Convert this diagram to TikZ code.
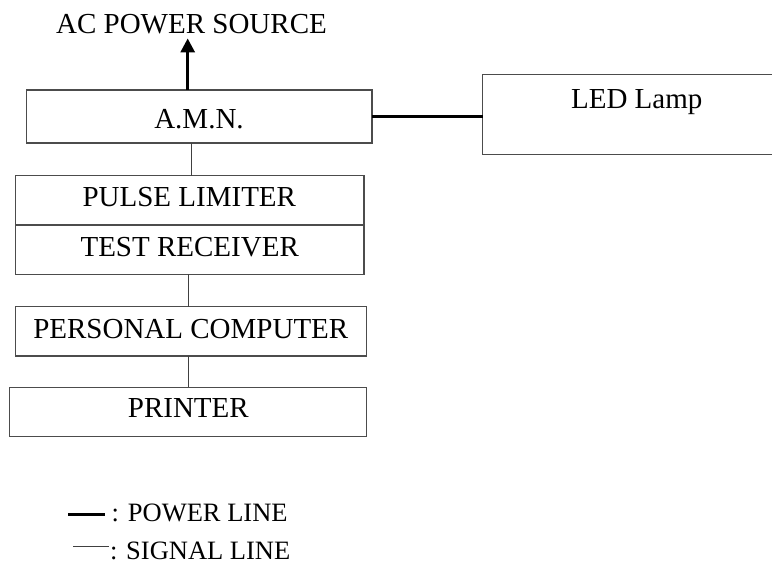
\documentclass[tikz,border=0pt]{standalone}
\usepackage{fontspec}
\setmainfont{Liberation Serif}
\usetikzlibrary{arrows.meta}
\begin{document}
\begin{tikzpicture}[x=1pt,y=-1pt,
  box/.style={draw=black!70, line width=1.2pt, rectangle, inner sep=0pt, outer sep=0pt,
    font=\fontsize{29}{34}\selectfont},
  txt/.style={inner sep=0pt, outer sep=0pt, font=\fontsize{29}{34}\selectfont},
  legtxt/.style={inner sep=0pt, outer sep=0pt, font=\fontsize{26.5}{31}\selectfont},
  power/.style={line width=3pt, black},
  signal/.style={line width=1pt, black!75}]
\clip (0,0) rectangle (772,564);
\fill[white] (0,0) rectangle (772,564);

% title
\node[txt, anchor=base, inner sep=4.7pt] (title) at (191.5,33.3) {AC POWER SOURCE};

% boxes
\node[box, minimum width=345.3pt, minimum height=53pt] (amn) at (199.3,116.5) {};
\node[txt, anchor=base] at (199,128.3) {A.M.N.};
\node[box, minimum width=310pt, minimum height=79.6pt] (led) at (637.7,114.5) {};
\node[txt, anchor=base] at (636.7,108.3) {LED Lamp};
\node[box, minimum width=348.7pt, minimum height=49.3pt] (pulse) at (189.65,200.35) {};
\node[txt, anchor=base] at (189.3,206.7) {PULSE LIMITER};
\node[box, minimum width=348.7pt, minimum height=49.3pt] (test) at (189.65,249.65) {};
\node[txt, anchor=base] at (189.7,256.7) {TEST RECEIVER};
\node[box, minimum width=351.4pt, minimum height=49.3pt] (pc) at (191,331.35) {};
\node[txt, anchor=base] at (190.8,338.3) {PERSONAL COMPUTER};
\node[box, minimum width=357.4pt, minimum height=49.4pt] (printer) at (188,412) {};
\node[txt, anchor=base] at (188.3,417.7) {PRINTER};

% connectors
\path ([xshift=-11.6pt]amn.north) coordinate (a1);
\draw[power, -{Triangle[length=14pt,width=14pt]}] (a1) -- (a1 |- title.south);
\draw[power] (amn.east) -- (amn.east -| led.west);
\path ([xshift=-7.6pt]amn.south) coordinate (s1);
\draw[signal] (s1) -- (s1 |- pulse.north);
\path ([xshift=-1pt]test.south) coordinate (s2);
\draw[signal] (s2) -- (s2 |- pc.north);
\path ([xshift=-2.7pt]pc.south) coordinate (s3);
\draw[signal] (s3) -- (s3 |- printer.north);

% legend
\coordinate (p1) at (68.3,514.3);
\coordinate (p2) at (105,514.3);
\draw[power] (p1) -- (p2);
\node[legtxt, anchor=base west] (plt) at (111.7,521.7) {: POWER LINE};
\coordinate (q1) at (73.3,546.7);
\coordinate (q2) at (109.3,546.7);
\draw[signal] (q1) -- (q2);
\node[legtxt, anchor=base west] (slt) at (110,559) {: SIGNAL LINE};
\end{tikzpicture}
\end{document}
